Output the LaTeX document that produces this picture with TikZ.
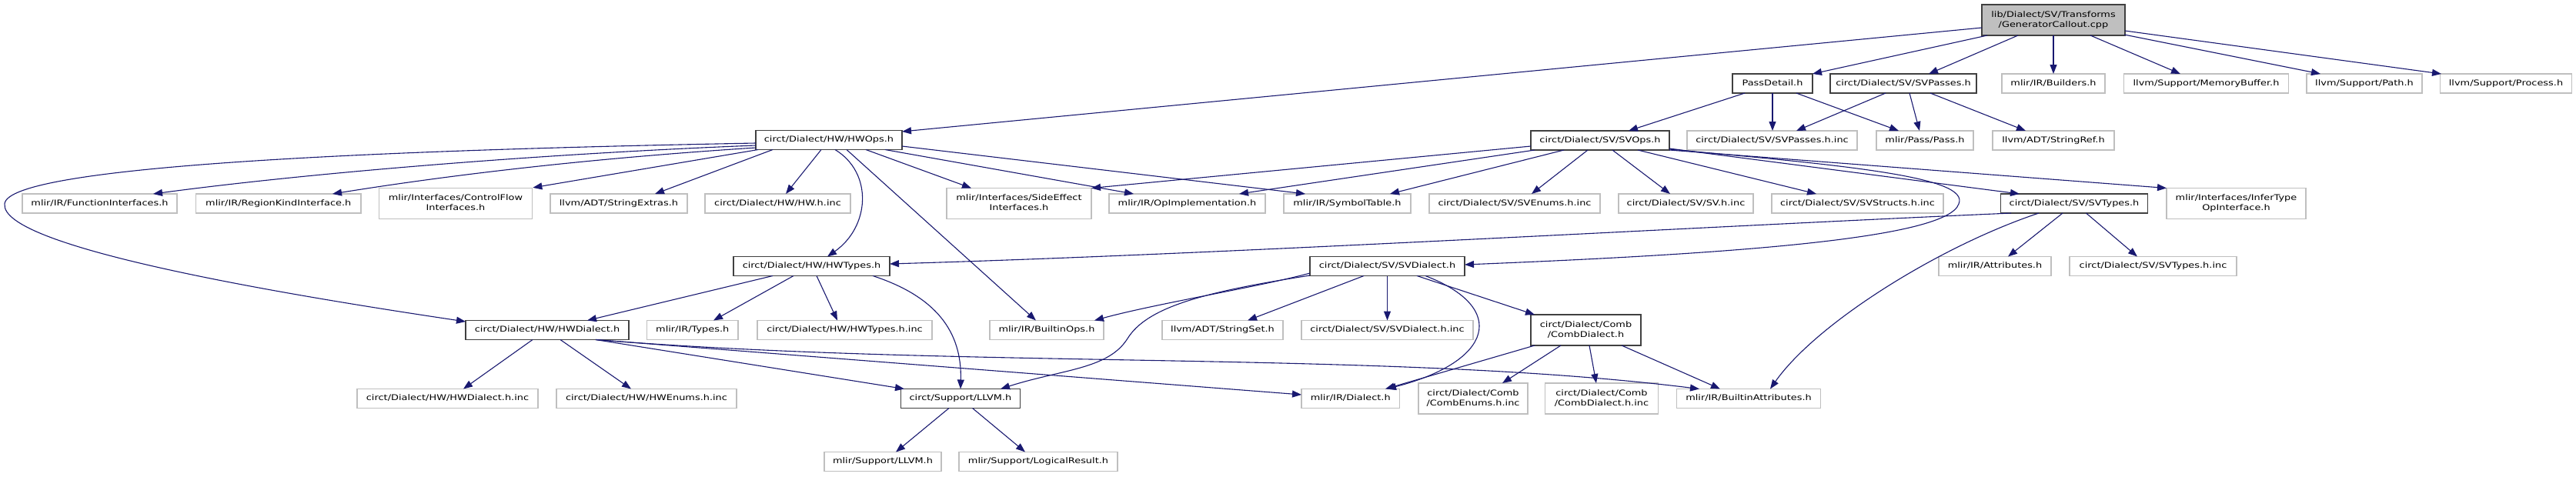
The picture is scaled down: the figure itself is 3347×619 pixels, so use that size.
\documentclass[tikz,border=0pt]{standalone}
\usepackage{fontspec}
\setmainfont{DejaVu Sans}
\usepackage{graphicx}
\usetikzlibrary{arrows.meta,calc}
\definecolor{edgec}{HTML}{191970}
\definecolor{lgray}{HTML}{BFBFBF}
\definecolor{dgray}{HTML}{404040}
\newcommand\sq[1]{\scalebox{1}[0.8]{\begin{tabular}{@{}c@{}}#1\end{tabular}}}
\tikzset{
  box/.style={draw=lgray, line width=1.2pt, fill=white, inner sep=0pt, minimum height=25pt, font=\fontsize{12.9}{16.5}\selectfont, text=black},
  bbox/.style={box, draw=dgray, line width=1.4pt},
  rbox/.style={bbox, fill=lgray},
  tall/.style={minimum height=40pt},
  conn/.style={draw=edgec, line width=1.1pt, -{Triangle[length=12pt,width=9pt]}}
}
\begin{document}
\begin{tikzpicture}[x=1pt,y=-1pt]
\useasboundingbox (0,0) rectangle (3347,619);
% row 1
\node[rbox,tall,minimum width=186pt] (root) at (2668,26) {\sq{lib/Dialect/SV/Transforms\\/GeneratorCallout.cpp}};
% row 2
\node[bbox,minimum width=104pt] (pd) at (2303,108.5) {\sq{PassDetail.h}};
\node[bbox,minimum width=190pt] (svp) at (2473,108.5) {\sq{circt/Dialect/SV/SVPasses.h}};
\node[box,minimum width=134pt] (bld) at (2668,108.5) {\sq{mlir/IR/Builders.h}};
\node[box,minimum width=214pt] (mb) at (2866.5,108.5) {\sq{llvm/Support/MemoryBuffer.h}};
\node[box,minimum width=150pt] (pth) at (3072,108.5) {\sq{llvm/Support/Path.h}};
\node[box,minimum width=171pt] (proc) at (3256,108.5) {\sq{llvm/Support/Process.h}};
% row 3
\node[bbox,minimum width=190pt] (hwops) at (1077,182) {\sq{circt/Dialect/HW/HWOps.h}};
\node[bbox,minimum width=180pt] (svops) at (2079,182.5) {\sq{circt/Dialect/SV/SVOps.h}};
\node[box,minimum width=221pt] (svpinc) at (2302.5,182.5) {\sq{circt/Dialect/SV/SVPasses.h.inc}};
\node[box,minimum width=126pt] (pass) at (2501,182.5) {\sq{mlir/Pass/Pass.h}};
\node[box,minimum width=158pt] (sref) at (2668,182.5) {\sq{llvm/ADT/StringRef.h}};
% row 4
\node[box,minimum width=201pt] (fi) at (129.5,264.5) {\sq{mlir/IR/FunctionInterfaces.h}};
\node[box,minimum width=214.5pt] (rk) at (361.75,264.5) {\sq{mlir/IR/RegionKindInterface.h}};
\node[box,tall,minimum width=199.5pt] (cf) at (592,264.5) {\sq{mlir/Interfaces/ControlFlow\\Interfaces.h}};
\node[box,minimum width=178pt] (sx) at (804,264.5) {\sq{llvm/ADT/StringExtras.h}};
\node[box,minimum width=189pt] (hwinc) at (1010.5,264.5) {\sq{circt/Dialect/HW/HW.h.inc}};
\node[box,tall,minimum width=188pt] (se) at (1324,264.5) {\sq{mlir/Interfaces/SideEffect\\Interfaces.h}};
\node[box,minimum width=203pt] (opi) at (1542.5,264.5) {\sq{mlir/IR/OpImplementation.h}};
\node[box,minimum width=165pt] (st) at (1750.5,264.5) {\sq{mlir/IR/SymbolTable.h}};
\node[box,minimum width=222pt] (sven) at (1968,264.5) {\sq{circt/Dialect/SV/SVEnums.h.inc}};
\node[box,minimum width=175pt] (svinc) at (2190.5,264.5) {\sq{circt/Dialect/SV/SV.h.inc}};
\node[box,minimum width=223pt] (svst) at (2413.5,264.5) {\sq{circt/Dialect/SV/SVStructs.h.inc}};
\node[bbox,minimum width=190.5pt] (svt) at (2695,264.5) {\sq{circt/Dialect/SV/SVTypes.h}};
\node[box,tall,minimum width=181pt] (inf) at (2905.5,264.5) {\sq{mlir/Interfaces/InferType\\OpInterface.h}};
% row 5
\node[bbox,minimum width=203pt] (hwt) at (1054.5,346) {\sq{circt/Dialect/HW/HWTypes.h}};
\node[bbox,minimum width=201pt] (svd) at (1802.5,346) {\sq{circt/Dialect/SV/SVDialect.h}};
\node[box,minimum width=146pt] (attr) at (2592,346) {\sq{mlir/IR/Attributes.h}};
\node[box,minimum width=217pt] (svtinc) at (2797.5,346) {\sq{circt/Dialect/SV/SVTypes.h.inc}};
% row 6
\node[bbox,minimum width=212pt] (hwd) at (711,429) {\sq{circt/Dialect/HW/HWDialect.h}};
\node[box,minimum width=118.5pt] (types) at (899.75,429) {\sq{mlir/IR/Types.h}};
\node[box,minimum width=227pt] (hwtinc) at (1097.5,429) {\sq{circt/Dialect/HW/HWTypes.h.inc}};
\node[box,minimum width=148pt] (bops) at (1360,429) {\sq{mlir/IR/BuiltinOps.h}};
\node[box,minimum width=157pt] (sset) at (1588.5,429) {\sq{llvm/ADT/StringSet.h}};
\node[box,minimum width=223pt] (svdinc) at (1802.5,429) {\sq{circt/Dialect/SV/SVDialect.h.inc}};
\node[bbox,tall,minimum width=143pt] (comb) at (2060.5,429) {\sq{circt/Dialect/Comb\\/CombDialect.h}};
% row 7
\node[box,minimum width=235pt] (hwdinc) at (581.5,518) {\sq{circt/Dialect/HW/HWDialect.h.inc}};
\node[box,minimum width=234pt] (hwen) at (840,518) {\sq{circt/Dialect/HW/HWEnums.h.inc}};
\node[bbox,minimum width=155pt] (cllvm) at (1248,518) {\sq{circt/Support/LLVM.h}};
\node[box,minimum width=127.5pt] (dial) at (1754.75,518) {\sq{mlir/IR/Dialect.h}};
\node[box,tall,minimum width=142pt] (cenum) at (1914,518) {\sq{circt/Dialect/Comb\\/CombEnums.h.inc}};
\node[box,tall,minimum width=146.5pt] (cdinc) at (2081,518) {\sq{circt/Dialect/Comb\\/CombDialect.h.inc}};
\node[box,minimum width=187pt] (battr) at (2272,518) {\sq{mlir/IR/BuiltinAttributes.h}};
% row 8
\node[box,minimum width=152pt] (mllvm) at (1147,600) {\sq{mlir/Support/LLVM.h}};
\node[box,minimum width=206pt] (lres) at (1349,600) {\sq{mlir/Support/LogicalResult.h}};

% root edges
\draw[conn] ($(root)+(-93,10)$) -- ($(hwops)+(95,-11)$);
\draw[conn] ($(root)+(-86,20)$) -- ($(pd)+(52,-12.5)$);
\draw[conn] ($(root)+(-46,20)$) -- ($(svp)+(33,-12.5)$);
\draw[conn] ($(root)+(0,20)$) -- ($(bld)+(0,-12.5)$);
\draw[conn] ($(root)+(48,20)$) -- ($(mb)+(-33.5,-12.5)$);
\draw[conn] ($(root)+(92,19)$) -- ($(pth)+(-57,-12.5)$);
\draw[conn] ($(root)+(93,14)$) -- ($(proc)+(-84,-12.5)$);
% PassDetail
\draw[conn] ($(pd)+(-36,12.5)$) -- ($(svops)+(37,-12.5)$);
\draw[conn] ($(pd)+(0,12.5)$) -- ($(svpinc)+(0.5,-12.5)$);
\draw[conn] ($(pd)+(31,12.5)$) -- ($(pass)+(-34,-12.5)$);
% SVPasses
\draw[conn] ($(svp)+(-23,12.5)$) -- ($(svpinc)+(31.5,-12.5)$);
\draw[conn] ($(svp)+(8,12.5)$) -- ($(pass)+(-7,-12.5)$);
\draw[conn] ($(svp)+(35,12.5)$) -- ($(sref)+(-36,-12.5)$);
% HWOps
\draw[conn] ($(hwops)+(-95,4)$) .. controls (500,195) and (10,215) .. (6,265) .. controls (0,320) and (350,380) .. ($(hwd)+(-106,-11)$);
\draw[conn] ($(hwops)+(-95,7)$) .. controls (700,200) and (400,225) .. ($(fi)+(69.5,-12.5)$);
\draw[conn] ($(hwops)+(-95,10)$) .. controls (780,205) and (600,225) .. ($(rk)+(70.25,-12.5)$);
\draw[conn] ($(hwops)+(-92,12.5)$) -- (cf.north east);
\draw[conn] ($(hwops)+(-73,12.5)$) -- ($(sx)+(47,-12.5)$);
\draw[conn] ($(hwops)+(-10,12.5)$) -- ($(hwinc)+(10.5,-12.5)$);
\draw[conn] ($(hwops)+(8,12.5)$) .. controls (1135,225) and (1130,295) .. ($(hwt)+(20.5,-12.5)$);
\draw[conn] ($(hwops)+(48,12.5)$) -- ($(se)+(-62,-20)$);
\draw[conn] ($(hwops)+(73,12.5)$) -- ($(opi)+(-69.5,-12.5)$);
\draw[conn] ($(hwops)+(95,8)$) -- ($(st)+(-54.5,-12.5)$);
\draw[conn] ($(hwops)+(23,12.5)$) -- ($(bops)+(-14,-12.5)$);
% HWTypes
\draw[conn] ($(hwt)+(-50.5,12.5)$) -- ($(hwd)+(52,-12.5)$);
\draw[conn] ($(hwt)+(-23.5,12.5)$) -- ($(types)+(27.25,-12.5)$);
\draw[conn] ($(hwt)+(6.5,12.5)$) -- ($(hwtinc)+(-9.5,-12.5)$);
\draw[conn] ($(hwt)+(79.5,12.5)$) .. controls (1215,385) and (1250,430) .. ($(cllvm)+(0,-12.5)$);
% SVTypes -> HWTypes
\draw[conn] ($(svt)+(-82,12.5)$) .. controls (2200,295) and (1600,330) .. ($(hwt)+(101.5,-3)$);
% HWDialect
\draw[conn] ($(hwd)+(-19,12.5)$) -- ($(hwdinc)+(20.5,-12.5)$);
\draw[conn] ($(hwd)+(17,12.5)$) -- ($(hwen)+(-20,-12.5)$);
\draw[conn] ($(hwd)+(63,12.5)$) -- ($(cllvm)+(-73,-12.5)$);
\draw[conn] ($(hwd)+(63,12.5)$) -- ($(dial)+(-63.75,-5)$);
\draw[conn] ($(hwd)+(63,12.5)$) .. controls (1250,480) and (1800,455) .. ($(battr)+(-64,-12.5)$);
% SVDialect
\draw[conn] ($(svd)+(-100.5,9)$) .. controls (1640,372) and (1500,395) .. ($(bops)+(62,-12.5)$);
\draw[conn] ($(svd)+(-100.5,12)$) .. controls (1560,380) and (1490,400) .. (1465,440) .. controls (1440,480) and (1380,480) .. ($(cllvm)+(52,-12.5)$);
\draw[conn] ($(svd)+(-30.5,12.5)$) -- ($(sset)+(32.5,-12.5)$);
\draw[conn] ($(svd)+(0,12.5)$) -- ($(svdinc)+(0,-12.5)$);
\draw[conn] ($(svd)+(49.5,12.5)$) .. controls (1960,400) and (1940,470) .. ($(dial)+(47.25,-12.5)$);
\draw[conn] ($(svd)+(38.5,12.5)$) -- ($(comb)+(-66.5,-20)$);
% SVOps
\draw[conn] ($(svops)+(-90,7.5)$) -- ($(se)+(94,-20)$);
\draw[conn] ($(svops)+(-85,12.5)$) -- ($(opi)+(67.5,-12.5)$);
\draw[conn] ($(svops)+(-47,12.5)$) -- ($(st)+(55.5,-12.5)$);
\draw[conn] ($(svops)+(-16,12.5)$) -- ($(sven)+(22,-12.5)$);
\draw[conn] ($(svops)+(16,12.5)$) -- ($(svinc)+(-20.5,-12.5)$);
\draw[conn] ($(svops)+(49,12.5)$) -- ($(svst)+(-53.5,-12.5)$);
\draw[conn] ($(svops)+(90,10.5)$) -- ($(svt)+(-71,-12.5)$);
\draw[conn] ($(svops)+(90,11.5)$) .. controls (2400,215) and (2560,230) .. (2545,265) .. controls (2530,310) and (2250,330) .. ($(svd)+(100.5,-2)$);
\draw[conn] ($(svops)+(90,12.5)$) -- ($(inf)+(-90.5,-20)$);
% SVTypes
\draw[conn] ($(svt)+(-46,12.5)$) .. controls (2520,320) and (2360,420) .. ($(battr)+(28,-12.5)$);
\draw[conn] ($(svt)+(-15,12.5)$) -- ($(attr)+(17,-12.5)$);
\draw[conn] ($(svt)+(15.5,12.5)$) -- ($(svtinc)+(-20.5,-12.5)$);
% CombDialect
\draw[conn] ($(comb)+(-66.5,20)$) -- ($(dial)+(45.25,-12.5)$);
\draw[conn] ($(comb)+(-32.5,20)$) -- ($(cenum)+(38,-20)$);
\draw[conn] ($(comb)+(4.5,20)$) -- ($(cdinc)+(-7,-20)$);
\draw[conn] ($(comb)+(46.5,20)$) -- ($(battr)+(-37,-12.5)$);
% circt LLVM
\draw[conn] ($(cllvm)+(-15,12.5)$) -- ($(mllvm)+(17,-12.5)$);
\draw[conn] ($(cllvm)+(15.5,12.5)$) -- ($(lres)+(-17,-12.5)$);
\end{tikzpicture}
\end{document}
